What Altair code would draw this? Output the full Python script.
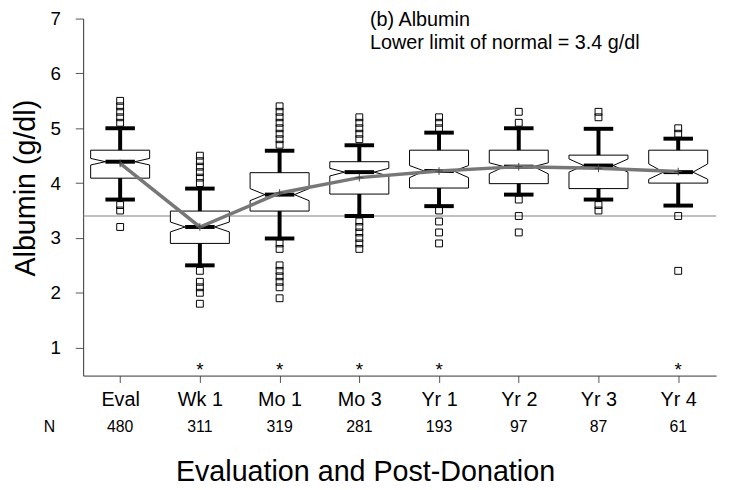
import altair as alt
import pandas as pd

# ---------------- data ----------------
cats = ["Eval", "Wk 1", "Mo 1", "Mo 3", "Yr 1", "Yr 2", "Yr 3", "Yr 4"]
n_counts = [480, 311, 319, 281, 193, 97, 87, 61]
q1 = [4.09, 2.90, 3.49, 3.80, 3.91, 3.99, 3.90, 4.00]
median = [4.39, 3.20, 3.79, 4.20, 4.22, 4.30, 4.32, 4.20]
q3 = [4.60, 3.49, 4.19, 4.39, 4.60, 4.60, 4.51, 4.60]
notch_lo = [4.33, 3.11, 3.68, 4.13, 4.10, 4.17, 4.20, 4.07]
notch_hi = [4.45, 3.29, 3.90, 4.27, 4.32, 4.37, 4.44, 4.35]
whisk_lo = [3.70, 2.50, 2.99, 3.40, 3.58, 3.79, 3.70, 3.59]
whisk_hi = [5.00, 3.90, 4.59, 4.69, 4.92, 5.00, 4.99, 4.81]
means = [4.36, 3.20, 3.82, 4.10, 4.22, 4.30, 4.27, 4.21]
sig_marks = ["", "*", "*", "*", "*", "", "", "*"]

out_eval = [5.5, 5.4, 5.3, 5.2, 5.1, 3.6, 3.5, 3.2]
out_wk1 = [4.5, 4.4, 4.3, 4.2, 4.1, 4.0, 2.4, 2.2, 2.1, 2.0, 1.8]
out_mo1 = [5.4, 5.3, 5.2, 5.1, 5.0, 4.9, 4.8, 4.7, 2.9, 2.8, 2.5, 2.4, 2.3, 2.2, 2.1, 1.9]
out_mo3 = [5.2, 5.1, 5.0, 4.9, 4.8, 3.3, 3.2, 3.1, 3.0, 2.9, 2.8]
out_yr1 = [5.2, 5.1, 5.0, 3.5, 3.3, 3.1, 2.9]
out_yr2 = [5.3, 5.1, 3.7, 3.4, 3.1]
out_yr3 = [5.3, 5.2, 3.6, 3.5]
out_yr4 = [5.0, 4.9, 3.4, 2.4]
outlier_lists = [out_eval, out_wk1, out_mo1, out_mo3, out_yr1, out_yr2, out_yr3, out_yr4]

lower_limit = 3.4
y_ticks = [1, 2, 3, 4, 5, 6, 7]
note_title = "(b) Albumin"
note_limit = "Lower limit of normal = 3.4 g/dl"

# ---------------- tables ----------------
BOX_HALF = 0.37
CAP_HALF = 0.185

stats = pd.DataFrame({
    "idx": list(range(len(cats))),
    "cat": cats,
    "n": [str(v) for v in n_counts],
    "q1": q1, "med": median, "q3": q3,
    "nlo": notch_lo, "nhi": notch_hi,
    "wlo": whisk_lo, "whi": whisk_hi,
    "mean": means, "sig": sig_marks,
})
stats["bx0"] = stats["idx"] - BOX_HALF
stats["bx1"] = stats["idx"] + BOX_HALF
stats["cx0"] = stats["idx"] - CAP_HALF
stats["cx1"] = stats["idx"] + CAP_HALF

poly_rows = []
for i in range(len(cats)):
    pts = [
        (i - BOX_HALF, q3[i]), (i + BOX_HALF, q3[i]), (i + BOX_HALF, notch_hi[i]),
        (i + CAP_HALF, median[i]), (i + BOX_HALF, notch_lo[i]), (i + BOX_HALF, q1[i]),
        (i - BOX_HALF, q1[i]), (i - BOX_HALF, notch_lo[i]), (i - CAP_HALF, median[i]),
        (i - BOX_HALF, notch_hi[i]), (i - BOX_HALF, q3[i]),
    ]
    for k, (px, py) in enumerate(pts):
        poly_rows.append({"box": i, "ord": k, "px": px, "py": py})
poly = pd.DataFrame(poly_rows)

out_rows = []
for i, vals in enumerate(outlier_lists):
    for v in vals:
        out_rows.append({"idx": i, "val": v})
outs = pd.DataFrame(out_rows)

FONT = "Liberation Sans"
xscale = alt.Scale(domain=[-0.464, 7.475], nice=False, zero=False)
yscale = alt.Scale(domain=[0.49, 7.0], nice=False, zero=False)

label_expr = "[" + ",".join("'" + c + "'" for c in cats) + "][datum.value]"

x_axis = alt.Axis(
    values=list(range(len(cats))), labelExpr=label_expr, grid=False,
    tickSize=7, tickColor="#555", domainColor="#333", labelFont=FONT,
    labelFontSize=20, labelColor="black", labelPadding=7,
    title="Evaluation and Post-Donation", titleFont=FONT, titleFontSize=29,
    titleFontWeight="normal", titleColor="black", titleX=285, titleY=106,
    titleBaseline="alphabetic", titleAlign="center",
)
y_axis = alt.Axis(
    values=y_ticks, format="d", grid=False, tickSize=8, tickColor="#555", domainColor="#333",
    labelFont=FONT, labelFontSize=19, labelColor="black", labelPadding=15,
    title="Albumin (g/dl)", titleFont=FONT, titleFontSize=29,
    titleFontWeight="normal", titleColor="black", titleX=-49, titleY=171,
    titleBaseline="alphabetic", titleAlign="center", titleAngle=-90,
)

base = alt.Chart(stats)

ref = alt.Chart(pd.DataFrame({"y": [lower_limit]})).mark_rule(
    color="#808080", strokeWidth=1
).encode(
    y=alt.Y("y:Q", scale=yscale, axis=y_axis),
)

box_fill = base.mark_rect(fill="white", stroke=None).encode(
    x=alt.X("bx0:Q", scale=xscale, axis=x_axis), x2="bx1:Q",
    y=alt.Y("q1:Q", scale=yscale), y2="q3:Q",
)

wh_up = base.mark_rule(color="black", strokeWidth=4).encode(
    x=alt.X("idx:Q", scale=xscale), y=alt.Y("q3:Q", scale=yscale), y2="whi:Q")
wh_dn = base.mark_rule(color="black", strokeWidth=4).encode(
    x=alt.X("idx:Q", scale=xscale), y=alt.Y("wlo:Q", scale=yscale), y2="q1:Q")
cap_up = base.mark_rule(color="black", strokeWidth=4).encode(
    x=alt.X("cx0:Q", scale=xscale), x2="cx1:Q", y=alt.Y("whi:Q", scale=yscale))
cap_dn = base.mark_rule(color="black", strokeWidth=4).encode(
    x=alt.X("cx0:Q", scale=xscale), x2="cx1:Q", y=alt.Y("wlo:Q", scale=yscale))

outline = alt.Chart(poly).mark_line(color="black", strokeWidth=1).encode(
    x=alt.X("px:Q", scale=xscale), y=alt.Y("py:Q", scale=yscale),
    detail="box:N", order="ord:Q",
)

med_bar = base.mark_rule(color="black", strokeWidth=4).encode(
    x=alt.X("cx0:Q", scale=xscale), x2="cx1:Q", y=alt.Y("med:Q", scale=yscale))

out_pts = alt.Chart(outs).mark_point(
    shape="square", filled=False, color="black", strokeWidth=1, size=48, opacity=1
).encode(x=alt.X("idx:Q", scale=xscale), y=alt.Y("val:Q", scale=yscale))

trend = base.mark_line(color="#777777", strokeWidth=3.5).encode(
    x=alt.X("idx:Q", scale=xscale), y=alt.Y("mean:Q", scale=yscale))

mean_pts = base.mark_point(
    shape="M-1,0H1M0,-1V1", filled=False, color="#444444", strokeWidth=1, size=60, opacity=1
).encode(x=alt.X("idx:Q", scale=xscale), y=alt.Y("mean:Q", scale=yscale))

stars = base.mark_text(font=FONT, fontSize=19, color="black", baseline="alphabetic").encode(
    x=alt.X("idx:Q", scale=xscale), y=alt.value(361), text="sig:N")

n_text = base.mark_text(font=FONT, fontSize=16, color="black", baseline="alphabetic").encode(
    x=alt.X("idx:Q", scale=xscale), y=alt.value(418), text="n:N")

n_label = alt.Chart(pd.DataFrame({"t": ["N"]})).mark_text(
    font=FONT, fontSize=16, color="black", baseline="alphabetic"
).encode(x=alt.value(-34), y=alt.value(418), text="t:N")

note1 = alt.Chart(pd.DataFrame({"t": [note_title]})).mark_text(
    font=FONT, fontSize=20, color="black", align="left", baseline="alphabetic"
).encode(x=alt.value(290), y=alt.value(7), text="t:N")

note2 = alt.Chart(pd.DataFrame({"t": [note_limit]})).mark_text(
    font=FONT, fontSize=20, color="black", align="left", baseline="alphabetic"
).encode(x=alt.value(290), y=alt.value(31), text="t:N")

chart = alt.layer(
    ref, box_fill, wh_up, wh_dn, cap_up, cap_dn, outline, med_bar, out_pts,
    trend, mean_pts, stars, n_text, n_label, note1, note2,
).properties(
    width=640, height=361,
    autosize=alt.AutoSizeParams(type="none"),
    padding={"left": 76, "top": 8, "right": 7, "bottom": 113},
    background="white",
).configure_view(stroke=None)

chart.save("out.html", embed_options={"renderer": "svg", "actions": False})
